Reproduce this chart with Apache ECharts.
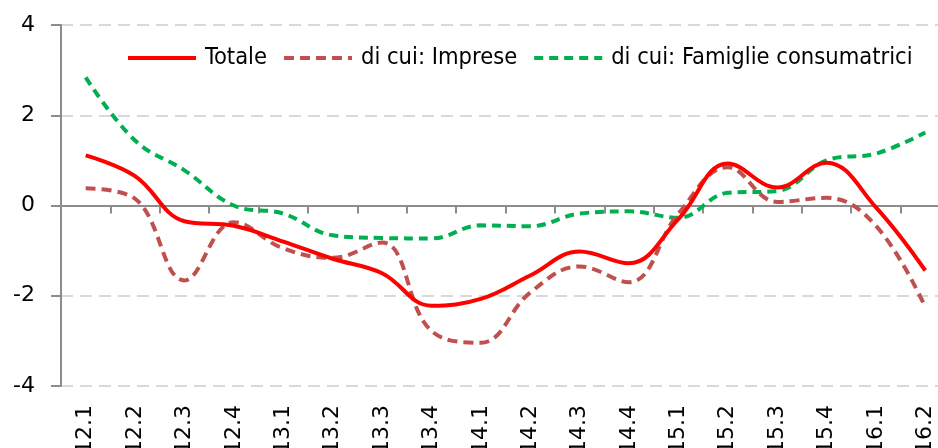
<!DOCTYPE html>
<html>
<head>
<meta charset="utf-8">
<script src="https://cdn.jsdelivr.net/npm/echarts@6/dist/echarts.min.js"></script>
<style>
  html, body { margin: 0; padding: 0; background: #fff; }
  #main { width: 938px; height: 448px; }
</style>
</head>
<body>
<div id="main"></div>
<script>
const categories = ["12.1", "12.2", "12.3", "12.4", "13.1", "13.2", "13.3", "13.4",
  "14.1", "14.2", "14.3", "14.4", "15.1", "15.2", "15.3", "15.4", "16.1", "16.2"];
const totale = [1.11, 0.65, -0.35, -0.45, -0.8, -1.18, -1.5, -2.22, -2.07, -1.55, -1.02, -1.28, -0.3, 0.93, 0.4, 0.95, -0.04, -1.44];
const imprese = [0.38, 0.15, -1.66, -0.37, -0.95, -1.16, -0.82, -2.78, -3.04, -1.93, -1.35, -1.7, -0.18, 0.85, 0.08, 0.17, -0.45, -2.25];
const famiglie = [2.84, 1.44, 0.78, 0.0, -0.18, -0.66, -0.72, -0.73, -0.44, -0.46, -0.18, -0.13, -0.27, 0.28, 0.32, 1.0, 1.15, 1.62];
const yTicks = { min: -4, max: 4, interval: 2 };

const chart = echarts.init(document.getElementById('main'));

const option = {
  animation: false,
  grid: { left: 61, right: -12, top: 25, bottom: 62, outerBoundsMode: 'none', containLabel: false },
  legend: {
    left: 121,
    top: 41,
    itemWidth: 68,
    itemHeight: 14,
    itemGap: 15,
    itemStyle: { opacity: 0 },
    lineStyle: { width: 4 },
    textStyle: { fontFamily: 'DejaVu Sans Condensed', fontSize: 23.5, color: '#000', padding: [0, 0, 0, 4] },
    data: ['Totale', 'di cui: Imprese', 'di cui: Famiglie consumatrici']
  },
  xAxis: [
    {
      type: 'category',
      data: categories,
      position: 'bottom',
      axisLine: { onZero: true, lineStyle: { color: '#8c8c8c', width: 2 } },
      axisTick: { show: true, length: 8, lineStyle: { color: '#8c8c8c', width: 2 } },
      axisLabel: { show: false },
      splitLine: { show: false }
    },
    {
      type: 'category',
      data: categories,
      position: 'bottom',
      axisLine: { show: false, onZero: false },
      axisTick: { show: false },
      axisLabel: {
        rotate: 90,
        margin: 19,
        fontFamily: 'DejaVu Sans',
        fontSize: 22,
        color: '#000'
      },
      splitLine: { show: false }
    }
  ],
  yAxis: {
    type: 'value',
    min: yTicks.min,
    max: yTicks.max,
    interval: yTicks.interval,
    axisLine: { show: true, lineStyle: { color: '#8c8c8c', width: 2 } },
    axisTick: { show: true, length: 10, lineStyle: { color: '#8c8c8c', width: 2 } },
    axisLabel: { margin: 26, fontFamily: 'DejaVu Sans', fontSize: 22, color: '#000' },
    splitLine: { show: true, lineStyle: { color: '#d9d9d9', width: 2, type: [12, 7] } }
  },
  series: [
    {
      name: 'Totale',
      type: 'line',
      data: totale,
      smooth: 0.4,
      symbol: 'none',
      z: 4,
      color: '#ff0000',
      lineStyle: { color: '#ff0000', width: 4 }
    },
    {
      name: 'di cui: Imprese',
      type: 'line',
      data: imprese,
      smooth: 0.4,
      symbol: 'none',
      z: 3,
      color: '#c0504d',
      lineStyle: { color: '#c0504d', width: 4, type: [10, 6] }
    },
    {
      name: 'di cui: Famiglie consumatrici',
      type: 'line',
      data: famiglie,
      smooth: 0.4,
      symbol: 'none',
      z: 2,
      color: '#00b050',
      lineStyle: { color: '#00b050', width: 4, type: [9, 6] }
    }
  ]
};

chart.setOption(option);
</script>
</body>
</html>
